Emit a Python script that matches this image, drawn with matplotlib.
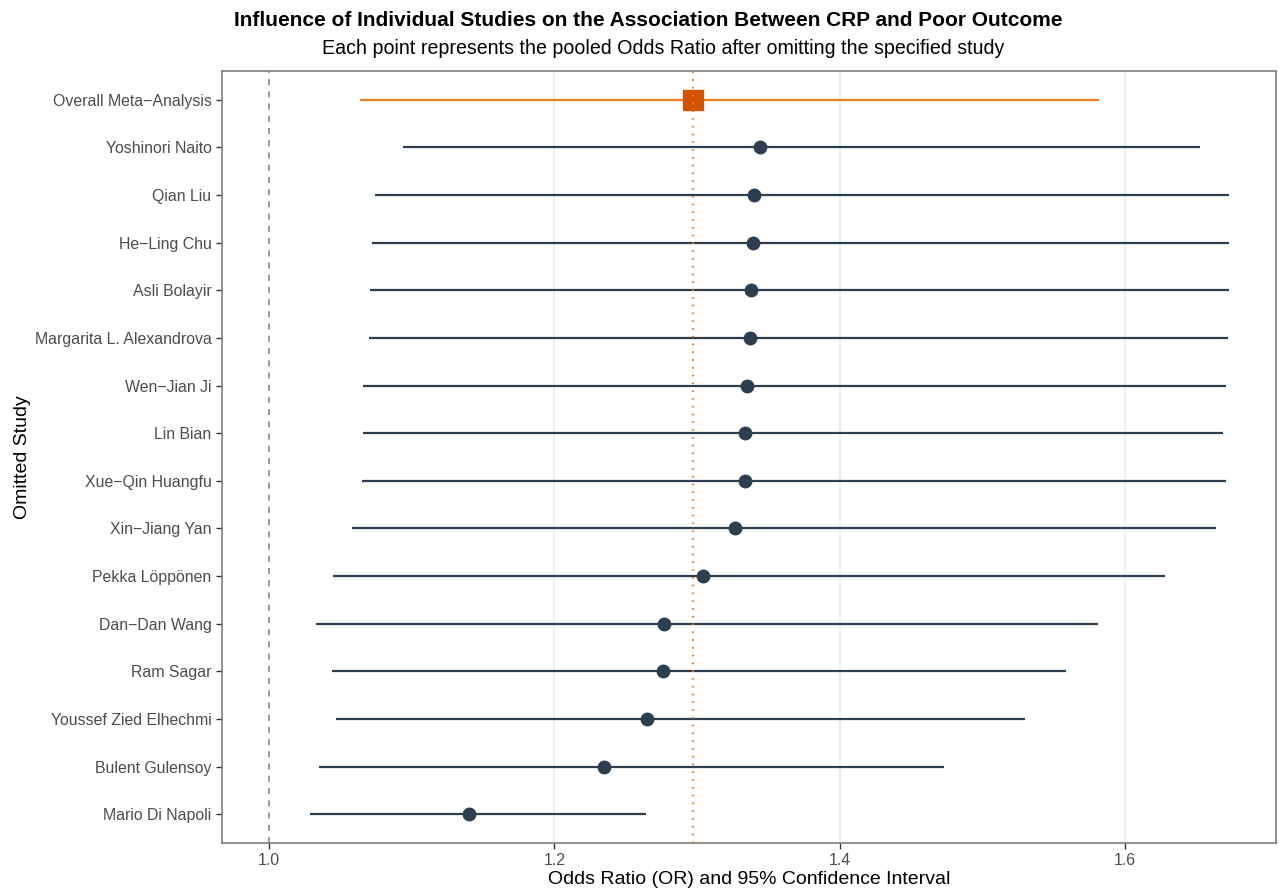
import matplotlib.pyplot as plt
import numpy as np

plt.rcParams['font.family'] = ['Liberation Sans', 'DejaVu Sans']

# top to bottom, as in the chart
studies = ['Overall Meta\u2212Analysis', 'Yoshinori Naito', 'Qian Liu', 'He\u2212Ling Chu',
           'Asli Bolayir', 'Margarita L. Alexandrova', 'Wen\u2212Jian Ji', 'Lin Bian',
           'Xue\u2212Qin Huangfu', 'Xin\u2212Jiang Yan', 'Pekka L\u00f6pp\u00f6nen',
           'Dan\u2212Dan Wang', 'Ram Sagar', 'Youssef Zied Elhechmi', 'Bulent Gulensoy',
           'Mario Di Napoli']
odds = [1.297, 1.344, 1.340, 1.339, 1.338, 1.337, 1.335, 1.334, 1.334, 1.327,
        1.304, 1.277, 1.276, 1.265, 1.235, 1.140]
lower = [1.064, 1.094, 1.074, 1.072, 1.071, 1.070, 1.066, 1.066, 1.065, 1.058,
         1.045, 1.033, 1.044, 1.047, 1.035, 1.029]
upper = [1.582, 1.653, 1.673, 1.673, 1.673, 1.672, 1.671, 1.669, 1.671, 1.664,
         1.628, 1.581, 1.559, 1.530, 1.473, 1.264]
pooled_or = 1.297

navy = '#2C3E50'
orange_dark = '#D35400'
orange = '#E67E22'

n = len(studies)
ypos = np.arange(n, 0, -1)

fig = plt.figure(figsize=(12.79, 8.94), dpi=100)
ax = fig.add_axes([222 / 1279, 1 - 843 / 894, (1276 - 222) / 1279, (843 - 71) / 894])

for x in [1.2, 1.4, 1.6]:
    ax.axvline(x, color='#EBEBEB', lw=1.1, zorder=0)
ax.axvline(1.0, color='#808080', lw=1.1, ls=(0, (4, 4)), zorder=1)
ax.axvline(pooled_or, color=orange, lw=1.6, ls=(0, (0.7, 2.8)), zorder=4)

for i in range(n):
    col = orange if i == 0 else navy
    ax.plot([lower[i], upper[i]], [ypos[i], ypos[i]], color=col, lw=1.6,
            solid_capstyle='butt', zorder=2)

ax.plot(odds[1:], ypos[1:], 'o', color=navy, ms=9, zorder=3)
ax.plot(odds[:1], ypos[:1], 's', color=orange_dark, ms=15, zorder=3)

ax.set_xlim(0.967, 1.706)
ax.set_ylim(0.4, n + 0.6)
ax.set_xticks([1.0, 1.2, 1.4, 1.6])
ax.set_xticklabels(['1.0', '1.2', '1.4', '1.6'])
ax.set_yticks(ypos)
ax.set_yticklabels(studies)
ax.tick_params(colors='#333333', labelcolor='#4D4D4D', labelsize=11.4, length=4, width=1)

for s in ax.spines.values():
    s.set_color('#7F7F7F')
    s.set_linewidth(1.2)

ax.set_xlabel('Odds Ratio (OR) and 95% Confidence Interval', fontsize=14, labelpad=2)
ax.set_ylabel('Omitted Study', fontsize=14, labelpad=3)

fig.text(648 / 1279, 1 - 20 / 894,
         'Influence of Individual Studies on the Association Between CRP and Poor Outcome',
         ha='center', va='center', fontsize=15, fontweight='bold')
fig.text(663 / 1279, 1 - 49 / 894,
         'Each point represents the pooled Odds Ratio after omitting the specified study',
         ha='center', va='center', fontsize=14.1)

fig.savefig('out.png', dpi=100)
